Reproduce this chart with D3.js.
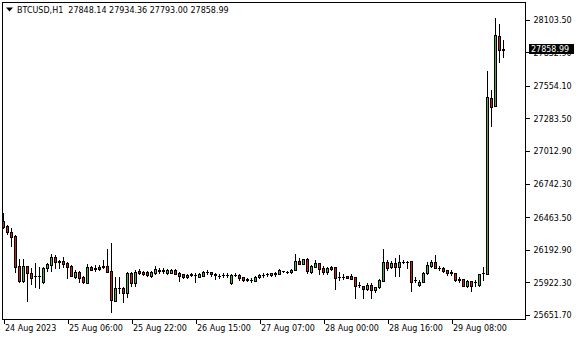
<!DOCTYPE html>
<html><head><meta charset="utf-8">
<script src="https://cdn.jsdelivr.net/npm/d3@7"></script>
<style>
body{margin:0;background:#fff}
svg{display:block}
text{font-family:"DejaVu Sans",sans-serif;font-size:8px;fill:#000}
</style>
</head><body>
<svg width="580" height="340"></svg>
<script>
const symbol = "BTCUSD,H1";
const open = [26431.7,26392.7,26337.9,26309.7,26058.2,25933.7,26058.2,25997.6,25972.0,25975.0,
25922.9,26039.1,26066.5,26135.4,26099.7,26099.7,26080.6,26058.2,25969.4,26010.9,
25969.4,25919.6,26049.9,26033.0,26049.9,26047.4,26058.2,26016.7,25770.2,25878.1,
25878.1,25831.6,25997.6,25914.6,26016.7,26010.0,26010.9,25977.7,25997.6,26019.2,
26021.0,25997.6,26000.0,26025.0,26002.6,25989.3,25964.4,25989.3,25983.5,25969.4,
25977.7,26005.9,26005.9,25989.3,25977.7,25983.5,25982.0,25914.6,25983.5,25983.5,
25964.4,25947.8,25942.0,25936.2,25964.4,25983.5,25989.3,25983.5,25997.6,25991.8,
26016.7,26010.9,26005.9,26025.0,26099.7,26072.3,26113.8,26010.9,26052.4,26085.6,
26039.1,26010.9,26052.4,26052.4,25969.4,25969.4,25975.2,25975.2,25964.4,25902.9,
25892.2,25864.8,25900.5,25859.1,25886.4,25936.2,26091.4,26052.4,26085.6,26052.4,
26093.9,26093.0,26099.7,25942.0,25900.5,25928.7,25997.6,26060.7,26093.9,26044.1,
26044.1,26025.0,26005.9,26002.6,25947.8,25950.3,25894.7,25933.7,25928.7,25900.5,
25997.6,25991.8,27449.7,27385.8,27966.6,27848.14];
const high = [26498.1,26394.4,26371.1,26315.5,26116.3,26116.3,26062.4,26039.1,26080.6,26052.4,
26052.4,26085.6,26155.3,26145.4,26108.0,26135.4,26093.9,26066.5,26025.0,26016.7,
25972.0,26077.3,26058.2,26066.5,26066.5,26106.4,26199.3,26249.1,25964.4,25969.4,
25883.9,26010.9,26010.9,26025.0,26030.8,26016.0,26016.7,26019.2,26058.2,26039.1,
26039.0,26033.3,26030.0,26030.8,26010.9,25990.0,25989.3,25997.6,25997.6,25997.6,
26016.7,26025.0,26006.0,25997.6,25989.3,25997.6,25997.0,25991.8,25997.6,25989.3,
25969.4,25961.1,25956.1,25975.2,25989.3,25997.6,26002.6,26000.0,26010.9,26030.8,
26019.2,26019.2,26033.3,26157.8,26122.0,26116.3,26120.5,26066.5,26105.5,26085.6,
26062.4,26052.4,26060.7,26054.0,26005.9,25989.3,25979.4,25989.3,25965.0,25925.4,
25893.0,25917.1,25917.1,25887.0,25947.8,26199.3,26108.0,26099.7,26122.0,26149.5,
26108.0,26099.7,26100.0,25969.4,25942.0,26010.9,26093.9,26108.0,26149.5,26058.2,
26052.4,26025.5,26025.0,26003.0,25969.4,25951.0,25942.0,25934.0,25942.0,25992.0,
26052.4,27678.7,27518.5,28113.5,28066.2,27934.36];
const low = [26373.6,26323.8,26226.7,26010.9,25929.6,25925.4,25767.7,25906.3,25886.4,25873.1,
25920.0,26016.7,26019.2,26039.1,26039.1,26052.4,25956.1,25975.0,25961.1,25922.9,
25914.6,25917.0,26023.0,26016.7,26029.0,26039.1,26008.4,25678.9,25767.7,25831.6,
25761.9,25803.4,25892.2,25892.2,25991.8,25985.0,25975.2,25969.4,25991.8,26002.6,
26003.0,25995.0,25997.0,25990.0,25936.2,25956.1,25956.1,25975.2,25928.7,25964.4,
25975.2,25991.8,25975.2,25947.8,25956.1,25969.4,25969.0,25912.0,25975.2,25942.0,
25936.2,25933.7,25928.7,25934.0,25962.0,25969.4,25975.2,25979.4,25975.2,25990.0,
26005.9,25997.6,25997.6,26023.0,26071.0,26070.8,26000.1,26000.1,26052.4,25990.1,
25991.8,25991.8,26029.0,25867.3,25942.0,25950.3,25955.0,25947.8,25796.0,25881.4,
25792.6,25859.1,25792.6,25845.2,25878.1,25935.0,26025.0,26039.1,25975.2,25975.2,
26080.6,26039.1,25853.4,25928.7,25892.2,25927.0,25991.8,26052.4,26039.1,26025.0,
26010.9,25983.5,25983.5,25936.2,25928.7,25892.2,25886.4,25853.4,25892.2,25892.2,
25942.0,25990.0,27219.8,27383.0,27753.4,27793.00];
const close = [26381.9,26337.9,26301.4,26052.4,25933.7,26058.2,25997.6,25961.1,25975.0,25973.0,
26044.1,26072.3,26135.4,26088.9,26091.4,26072.3,26052.4,25977.7,26010.9,25961.1,
25922.9,26049.9,26025.0,26041.0,26033.3,26055.7,26010.9,25776.0,25879.8,25875.6,
25831.6,25997.6,25914.6,26010.9,25997.6,25993.0,25981.0,26005.9,26030.8,26021.0,
26019.0,26025.0,26025.0,25991.8,25977.7,25964.4,25983.5,25987.0,25985.0,25991.8,
26005.9,26008.0,25989.3,25987.0,25979.0,25982.0,25984.0,25983.5,25981.0,25961.1,
25942.0,25945.0,25944.0,25969.4,25983.5,25985.0,25988.0,25997.6,25996.0,26025.0,
26018.0,26012.0,26025.0,26099.7,26072.3,26113.8,26019.2,26058.2,26083.1,26035.8,
26010.9,26039.1,26030.8,25961.1,25967.0,25971.0,25956.1,25950.3,25894.7,25901.0,
25867.3,25900.5,25859.1,25886.4,25942.0,26091.4,26039.1,26085.6,26047.4,26093.9,
26095.0,26094.0,25928.7,25944.0,25928.7,26002.6,26066.5,26093.9,26044.1,26043.0,
26019.2,25997.6,26004.0,25942.0,25946.0,25894.7,25933.7,25894.7,25927.0,25991.8,
25999.0,27458.0,27380.0,27974.9,27848.14,27858.99];

const yTicks = [28103.50,27832.90,27554.10,27283.50,27012.90,26742.30,26463.50,26192.90,25922.30,25651.70];
const xTickIndex = [0,16,32,48,64,80,96,112];
const xTickLabels = ["24 Aug 2023","25 Aug 06:00","25 Aug 22:00","26 Aug 15:00","27 Aug 07:00","28 Aug 00:00","28 Aug 16:00","29 Aug 08:00"];

const bullColor = "#46b046", bearColor = "#d01c1c";

const svg = d3.select("svg");
const frame = {l:2.5, t:2.5, r:525.5, b:319.5};
const n = open.length;
const x = d3.scaleLinear().domain([0, n-1]).range([3.5, 3.5 + 4*(n-1)]);
const y = d3.scaleLinear().domain([25651.7, 28103.5]).range([315, 19.5]);

const data = d3.range(n).map(i => ({i, o:open[i], h:high[i], l:low[i], c:close[i]}));

// candles
const g = svg.append("g").attr("shape-rendering","crispEdges");
g.selectAll("line.wick").data(data).join("line")
  .attr("x1", d => x(d.i)).attr("x2", d => x(d.i))
  .attr("y1", d => Math.round(y(d.h))).attr("y2", d => Math.round(y(d.l)) + 1)
  .attr("stroke", "#000").attr("stroke-width", 1);

data.forEach(d => {
  const yo = Math.round(y(d.o)), yc = Math.round(y(d.c));
  const top = Math.min(yo, yc), bot = Math.max(yo, yc);
  const cx = x(d.i);
  if (bot - top < 1) {
    g.append("line").attr("x1", cx - 1.5).attr("x2", cx + 1.5)
      .attr("y1", top + 0.5).attr("y2", top + 0.5)
      .attr("stroke", "#000");
  } else {
    g.append("rect").attr("x", cx - 1).attr("y", top + 0.5)
      .attr("width", 2).attr("height", bot - top)
      .attr("fill", d.c > d.o ? bullColor : bearColor)
      .attr("stroke", "#000").attr("stroke-width", 1);
  }
});

// frame
svg.append("rect").attr("x", frame.l).attr("y", frame.t)
  .attr("width", frame.r - frame.l).attr("height", frame.b - frame.t)
  .attr("fill", "none").attr("stroke", "#000").attr("shape-rendering","crispEdges");

// right axis
const yAxis = d3.axisRight(y).tickValues(yTicks).tickFormat(d => d.toFixed(2)).tickSize(4).tickPadding(4);
const ya = svg.append("g").attr("transform", `translate(${frame.r},0)`).call(yAxis);
ya.select(".domain").remove();
ya.selectAll("line").attr("shape-rendering","crispEdges");
ya.selectAll("text").attr("font-family", null).attr("font-size", null).attr("dy","0.36em");

// bottom axis
const xAxis = d3.axisBottom(x).tickValues(xTickIndex).tickFormat((d,i) => xTickLabels[i]).tickSize(4).tickPadding(2);
const xa = svg.append("g").attr("transform", `translate(0,${frame.b})`).call(xAxis);
xa.select(".domain").remove();
xa.selectAll("line").attr("shape-rendering","crispEdges");
xa.selectAll("text").attr("font-family", null).attr("font-size", null)
  .attr("text-anchor","start").attr("x", 1);

// current price box
const last = close[n-1];
const yl = Math.round(y(last));
svg.append("rect").attr("x", 529).attr("y", yl - 5).attr("width", 45).attr("height", 10).attr("fill", "#000");
svg.append("text").attr("x", 531).attr("y", yl + 3).style("fill", "#fff").text(last.toFixed(2));

// title
svg.append("path").attr("d", "M6,7.5 L13,7.5 L9.5,11.5 Z").attr("fill", "#000");
svg.append("text").attr("x", 17).attr("y", 12.8).attr("xml:space","preserve")
  .style("white-space","pre")
  .text(`${symbol}  ${open[n-1].toFixed(2)} ${high[n-1].toFixed(2)} ${low[n-1].toFixed(2)} ${close[n-1].toFixed(2)}`);
</script>
</body></html>
